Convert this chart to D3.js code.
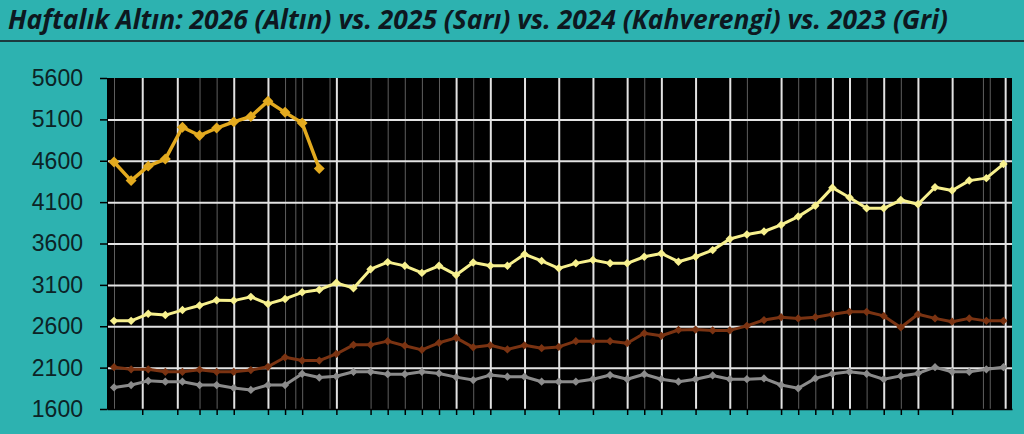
<!DOCTYPE html>
<html>
<head>
<meta charset="utf-8">
<script src="https://cdn.jsdelivr.net/npm/d3@7/dist/d3.min.js"></script>
<style>
  html, body { margin: 0; padding: 0; background: #2db2b0; }
  svg { display: block; }
</style>
</head>
<body>
<div id="chart-container"></div>
<script>
// Haftalık altın: 4 yıl, hafta bazında
const weeks = d3.range(1, 54);
const gold2026 = [4585, 4360, 4535, 4620, 5005, 4905, 4995, 5070, 5135, 5320, 5185, 5055, 4505];
const gold2025 = [2665, 2665, 2750, 2735, 2795, 2850, 2915, 2910, 2955, 2870, 2930, 3010, 3040, 3125,
  3060, 3290, 3375, 3330, 3245, 3330, 3220, 3370, 3330, 3330, 3470, 3390, 3300, 3360, 3400, 3360,
  3360, 3440, 3480, 3380, 3440, 3520, 3655, 3710, 3745, 3825, 3925, 4055, 4275, 4155, 4025, 4025,
  4125, 4075, 4280, 4240, 4360, 4390, 4560];
const gold2024 = [2105, 2080, 2080, 2050, 2050, 2075, 2050, 2050, 2070, 2110, 2225, 2185, 2185, 2265,
  2375, 2375, 2420, 2365, 2315, 2400, 2460, 2345, 2370, 2320, 2370, 2335, 2350, 2420, 2420, 2420,
  2395, 2515, 2485, 2555, 2560, 2550, 2550, 2605, 2675, 2710, 2695, 2710, 2745, 2775, 2775, 2725,
  2585, 2745, 2695, 2655, 2695, 2665, 2665];
const gold2023 = [1860, 1890, 1940, 1930, 1930, 1890, 1890, 1855, 1830, 1890, 1890, 2025, 1980, 1995,
  2050, 2050, 2020, 2020, 2050, 2030, 1985, 1950, 2010, 1990, 1990, 1930, 1930, 1930, 1960, 2010,
  1960, 2020, 1960, 1930, 1960, 2005, 1960, 1960, 1970, 1890, 1850, 1970, 2025, 2050, 2025, 1960,
  2000, 2030, 2105, 2050, 2050, 2080, 2105];
const yTicks = [1600, 2100, 2600, 3100, 3600, 4100, 4600, 5100, 5600];
// dikey ızgara ve alt tikler (hafta konumu)
const gridMajor = [2.65, 4.7, 8, 10, 14, 21, 23, 25, 27, 29, 31, 33, 35, 37, 40, 43, 44, 46, 48, 50, 53.1];
const gridMinor = [1, 6, 7, 11, 11.6, 12, 13.6, 16, 17, 18, 19, 20, 22, 32, 38, 41, 42, 45, 47, 51.8, 52.2];
const xTicks = [2.65, 4.7, 6, 7, 8, 10, 11, 12, 14, 16, 17, 18, 19, 20, 21, 22, 23, 25, 27, 29, 31, 32,
  33, 35, 37, 38, 40, 41, 42, 43, 44, 46, 47, 48, 50];

const width = 1024, height = 434, margin = {top: 78, right: 12, bottom: 25, left: 107};
const innerWidth = width - margin.left - margin.right;
const innerHeight = height - margin.top - margin.bottom;

const svg = d3.select("#chart-container")
  .append("svg")
  .attr("width", width)
  .attr("height", height);

// başlık + alt çizgi
svg.append("text")
  .attr("x", 8)
  .attr("y", 29)
  .attr("textLength", 940)
  .attr("lengthAdjust", "spacingAndGlyphs")
  .style("font-family", "'Open Sans', 'DejaVu Sans', sans-serif")
  .style("font-style", "italic")
  .style("font-weight", 700)
  .style("font-size", "26px")
  .style("fill", "#0d1820")
  .text("Haftalık Altın: 2026 (Altın) vs. 2025 (Sarı) vs. 2024 (Kahverengi) vs. 2023 (Gri)");

svg.append("line")
  .attr("x1", 0).attr("x2", width)
  .attr("y1", 41).attr("y2", 41)
  .attr("stroke", "#1c3a3e")
  .attr("stroke-width", 2);

const g = svg.append("g").attr("transform", `translate(${margin.left},${margin.top})`);

const x = d3.scaleLinear().domain([0.59, 53.5]).range([0, innerWidth]);
const y = d3.scaleLinear().domain([1600, 5600]).range([innerHeight, 0]);

g.append("rect")
  .attr("width", innerWidth)
  .attr("height", innerHeight)
  .attr("fill", "#000");

// ızgara
g.append("g")
  .attr("class", "grid-minor")
  .call(d3.axisBottom(x).tickValues(gridMinor).tickSize(innerHeight).tickFormat(""))
  .call(s => s.select(".domain").remove())
  .call(s => s.selectAll("line").attr("stroke", "#5e5e5e").attr("stroke-width", 1));

g.append("g")
  .attr("class", "grid-major")
  .call(d3.axisBottom(x).tickValues(gridMajor).tickSize(innerHeight).tickFormat(""))
  .call(s => s.select(".domain").remove())
  .call(s => s.selectAll("line").attr("stroke", "#e2e2e2").attr("stroke-width", 2));

g.append("g")
  .attr("class", "grid-y")
  .call(d3.axisLeft(y).tickValues(yTicks.slice(1, -1)).tickSize(-innerWidth).tickFormat(""))
  .call(s => s.select(".domain").remove())
  .call(s => s.selectAll("line").attr("stroke", "#e2e2e2").attr("stroke-width", 2));

// eksenler
g.append("g")
  .call(d3.axisLeft(y).tickValues(yTicks).tickFormat(d3.format("d"))
    .tickSize(7).tickPadding(17).tickSizeOuter(0))
  .call(s => s.select(".domain").attr("stroke", "#000"))
  .call(s => s.selectAll("line").attr("stroke", "#000").attr("stroke-width", 1.5))
  .call(s => s.selectAll("text")
    .style("font-family", "'Liberation Sans', Arial, sans-serif")
    .style("font-size", "23px")
    .style("fill", "#0c2326"));

g.append("g")
  .attr("transform", `translate(0,${innerHeight})`)
  .call(d3.axisBottom(x).tickValues(xTicks).tickSize(6).tickSizeOuter(0).tickFormat(""))
  .call(s => s.select(".domain").attr("stroke", "#000").attr("stroke-width", 1.5))
  .call(s => s.selectAll("line").attr("stroke", "#000").attr("stroke-width", 1.5));

// seriler
const series = [
  {name: "2023", values: gold2023, color: "#8b8b8b", width: 3, size: 34},
  {name: "2024", values: gold2024, color: "#7a3312", width: 3, size: 34},
  {name: "2025", values: gold2025, color: "#f7f08e", width: 3, size: 36},
  {name: "2026", values: gold2026, color: "#e3aa1f", width: 3.5, size: 60}
];

const line = d3.line()
  .x((d, i) => x(weeks[i]))
  .y(d => y(d));

series.forEach(s => {
  const sg = g.append("g").attr("class", "series-" + s.name);
  sg.append("path")
    .datum(s.values)
    .attr("fill", "none")
    .attr("stroke", s.color)
    .attr("stroke-width", s.width)
    .attr("stroke-linejoin", "round")
    .attr("d", line);

  sg.selectAll("path.marker")
    .data(s.values)
    .join("path")
      .attr("class", "marker")
      .attr("d", d3.symbol(d3.symbolSquare, s.size))
      .attr("transform", (d, i) => `translate(${x(weeks[i])},${y(d)}) rotate(45)`)
      .attr("fill", s.color);
});
</script>
</body>
</html>
